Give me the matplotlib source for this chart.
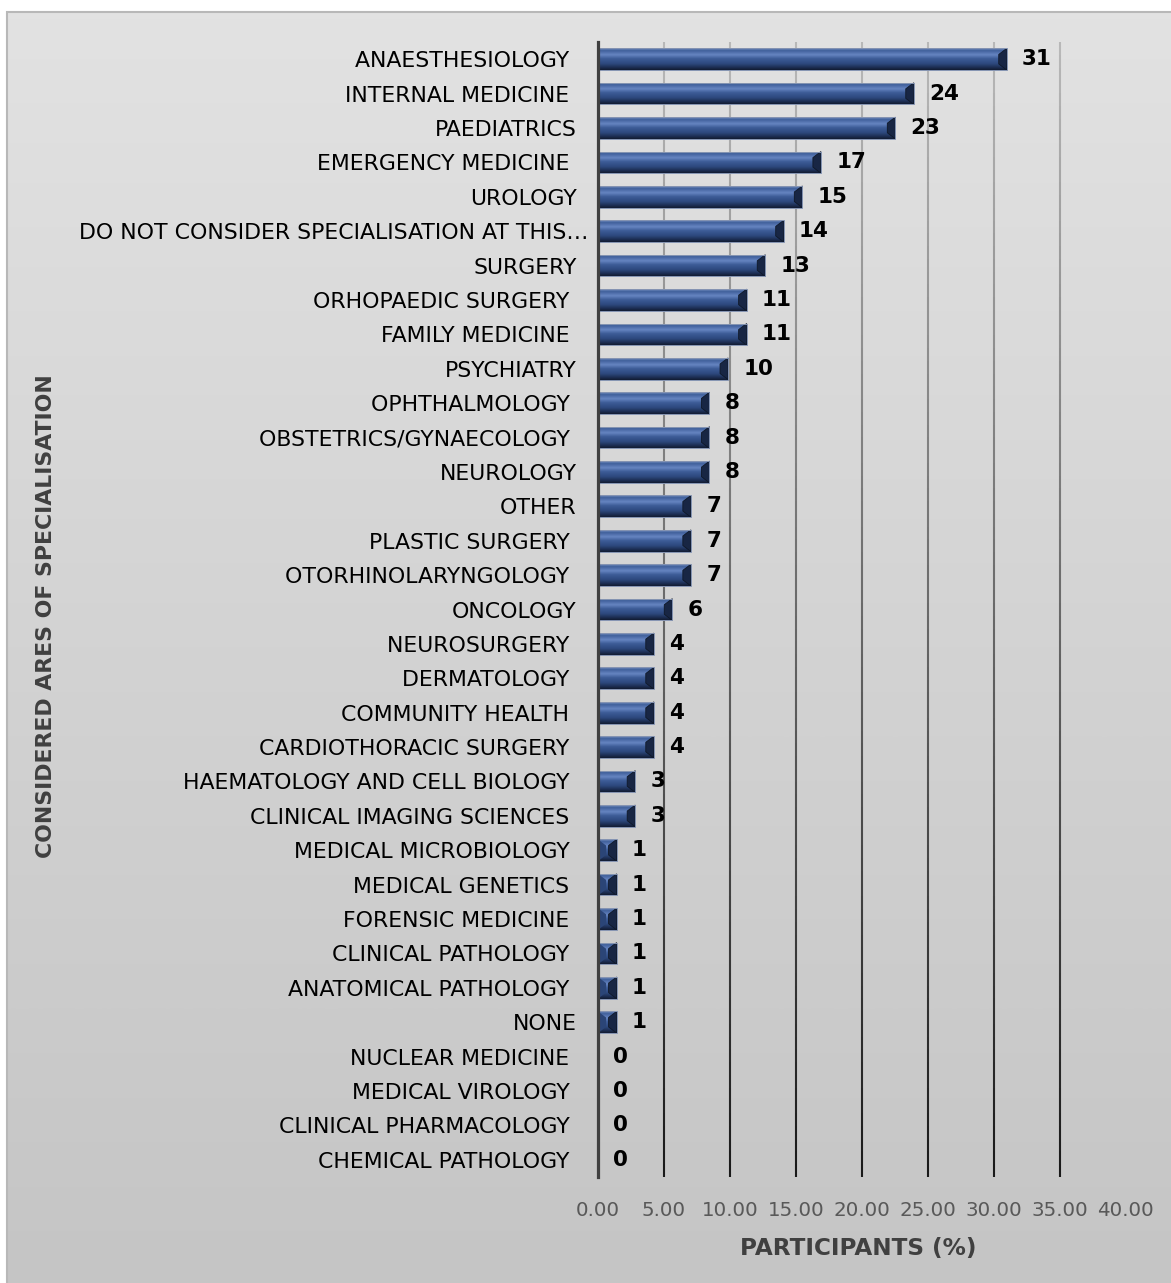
import numpy as np
import matplotlib
matplotlib.use("Agg")
import matplotlib.pyplot as plt
from matplotlib.colors import LinearSegmentedColormap, to_rgb
from matplotlib.collections import LineCollection
from matplotlib.patches import Polygon, Rectangle
from matplotlib.transforms import ScaledTranslation

# Share of participants (%) considering each area of specialisation
categories = [
    "ANAESTHESIOLOGY ", "INTERNAL MEDICINE ", "PAEDIATRICS", "EMERGENCY MEDICINE ",
    "UROLOGY", "DO NOT CONSIDER SPECIALISATION AT THIS\u2026", "SURGERY",
    "ORHOPAEDIC SURGERY ", "FAMILY MEDICINE ", "PSYCHIATRY", "OPHTHALMOLOGY ",
    "OBSTETRICS/GYNAECOLOGY ", "NEUROLOGY", "OTHER", "PLASTIC SURGERY ",
    "OTORHINOLARYNGOLOGY ", "ONCOLOGY", "NEUROSURGERY ", "DERMATOLOGY ",
    "COMMUNITY HEALTH ", "CARDIOTHORACIC SURGERY ", "HAEMATOLOGY AND CELL BIOLOGY ",
    "CLINICAL IMAGING SCIENCES ", "MEDICAL MICROBIOLOGY ", "MEDICAL GENETICS ",
    "FORENSIC MEDICINE ", "CLINICAL PATHOLOGY ", "ANATOMICAL PATHOLOGY ", "NONE",
    "NUCLEAR MEDICINE ", "MEDICAL VIROLOGY ", "CLINICAL PHARMACOLOGY ",
    "CHEMICAL PATHOLOGY ",
]
participants_pct = [
    30.99, 23.94, 22.54, 16.90, 15.49, 14.08, 12.68, 11.27, 11.27, 9.86,
    8.45, 8.45, 8.45, 7.04, 7.04, 7.04, 5.63, 4.23, 4.23, 4.23, 4.23,
    2.82, 2.82, 1.41, 1.41, 1.41, 1.41, 1.41, 1.41, 0.0, 0.0, 0.0, 0.0,
]
x_ticks = [0, 5, 10, 15, 20, 25, 30, 35, 40]
x_tick_labels = ["0.00", "5.00", "10.00", "15.00", "20.00", "25.00", "30.00", "35.00", "40.00"]

W, H = 1171, 1283
fig = plt.figure(figsize=(W / 100, H / 100), dpi=100)
fig.patch.set_facecolor("white")
plt.rcParams["font.family"] = ["DejaVu Sans"]

# Soft grey backdrop behind the whole chart
bg = fig.add_axes([7 / W, 0, 1 - 7 / W, 1 - 12 / H])
bg_cmap = LinearSegmentedColormap.from_list("bg", ["#e2e2e2", "#d3d3d3", "#c5c5c5"])
bg.imshow(np.linspace(0, 1, 256).reshape(-1, 1), cmap=bg_cmap, aspect="auto",
          extent=[0, 1, 0, 1], interpolation="bilinear")
bg.set_axis_off()
fig.patches.append(Rectangle((7 / W, -0.01), 1, 1 - 12 / H + 0.01, transform=fig.transFigure,
                             fill=False, edgecolor="#b8b8b8", linewidth=1.5))

ax = fig.add_axes([598 / W, 1 - 1177 / H, (1125.6 - 598) / W, (1177 - 42) / H])
ax.patch.set_alpha(0)

n = len(categories)
ypos = np.arange(n)
bar_h = 0.63
xmax = 40

# gradient gridlines: light at the top, nearly black at the bottom
seg_edges = np.linspace(-0.5, n - 0.5, 90)
c_top, c_bot = np.array(to_rgb("#b8b8b8")), np.array(to_rgb("#1a1a1a"))
for xv in x_ticks[1:-1]:
    segs = [[(xv, seg_edges[k]), (xv, seg_edges[k + 1])] for k in range(len(seg_edges) - 1)]
    fr = np.linspace(0, 1, len(segs))[:, None]
    cols = c_top * (1 - fr) + c_bot * fr
    ax.add_collection(LineCollection(segs, colors=cols, linewidths=1.5, zorder=0.5))

bars = ax.barh(ypos, participants_pct, height=bar_h, color="#34548e", linewidth=0, zorder=2)

# vertical shading across each bar for a bevelled look
bar_cmap = LinearSegmentedColormap.from_list("bar", [
    (0.00, "#8199c6"), (0.10, "#3f5f9a"), (0.30, "#6685c1"), (0.48, "#3d5c97"),
    (0.72, "#2d487d"), (0.88, "#1d2f54"), (1.00, "#121c33")])
grad = np.linspace(0, 1, 64).reshape(-1, 1)

px_per_unit = (1125.6 - 598) / xmax
bevel = 8 / px_per_unit

for rect, v, y in zip(bars.patches, participants_pct, ypos):
    if v <= 0:
        continue
    yt, yb = y - bar_h / 2, y + bar_h / 2
    im = ax.imshow(grad, cmap=bar_cmap, aspect="auto", extent=(0, v, yb, yt),
                   origin="upper", interpolation="bilinear", zorder=2.1)
    im.set_clip_path(rect)
    bx = min(bevel, v / 2)
    d = bar_h * 0.28
    ax.add_patch(Polygon([(v, yt), (v, yb), (v - bx, yb - d), (v - bx, yt + d)],
                         closed=True, facecolor="#182644", edgecolor="#0f1828",
                         linewidth=0.6, zorder=2.2))
    if v < 3 * bevel:
        ax.add_patch(Polygon([(0, yt), (0, yb), (bx, yb - d), (bx, yt + d)],
                             closed=True, facecolor="#2b4577", edgecolor="none", zorder=2.2))
    ax.add_patch(Rectangle((0, yt), v, bar_h, fill=False, edgecolor="#8594b2",
                           linewidth=0.7, zorder=2.3))

for v, y in zip(participants_pct, ypos):
    ax.annotate(f"{v:.0f}", (v, y), xytext=(11, 0), textcoords="offset points",
                ha="left", va="center", fontsize=15.5, fontweight="bold", color="black",
                zorder=3)

ax.set_xlim(0, xmax)
ax.set_ylim(n - 0.5, -0.5)
ax.set_xticks(x_ticks)
ax.set_xticklabels(x_tick_labels, fontsize=14.3, color="#595959")
ax.set_yticks(ypos)
ax.set_yticklabels(categories, fontsize=15.8, color="black")
ax.tick_params(axis="x", length=0, pad=17)
ax.tick_params(axis="y", length=0, pad=15.5)
for lbl in ax.get_yticklabels():
    if lbl.get_text().endswith("\u2026"):
        lbl.set_transform(lbl.get_transform() + ScaledTranslation(12 / 100, 0, fig.dpi_scale_trans))

for s in ["top", "right", "bottom"]:
    ax.spines[s].set_visible(False)
ax.spines["left"].set_color("#404040")
ax.spines["left"].set_linewidth(2.3)
ax.spines["left"].set_zorder(4)

fig.text(46 / W, 1 - 616 / H, "CONSIDERED ARES OF SPECIALISATION", rotation=90,
         ha="center", va="center", fontsize=15.8, fontweight="bold", color="#404040")
fig.text(858 / W, 1 - 1248 / H, "PARTICIPANTS (%)", ha="center", va="center",
         fontsize=16.7, fontweight="bold", color="#404040")

fig.savefig("out.png", dpi=100)
